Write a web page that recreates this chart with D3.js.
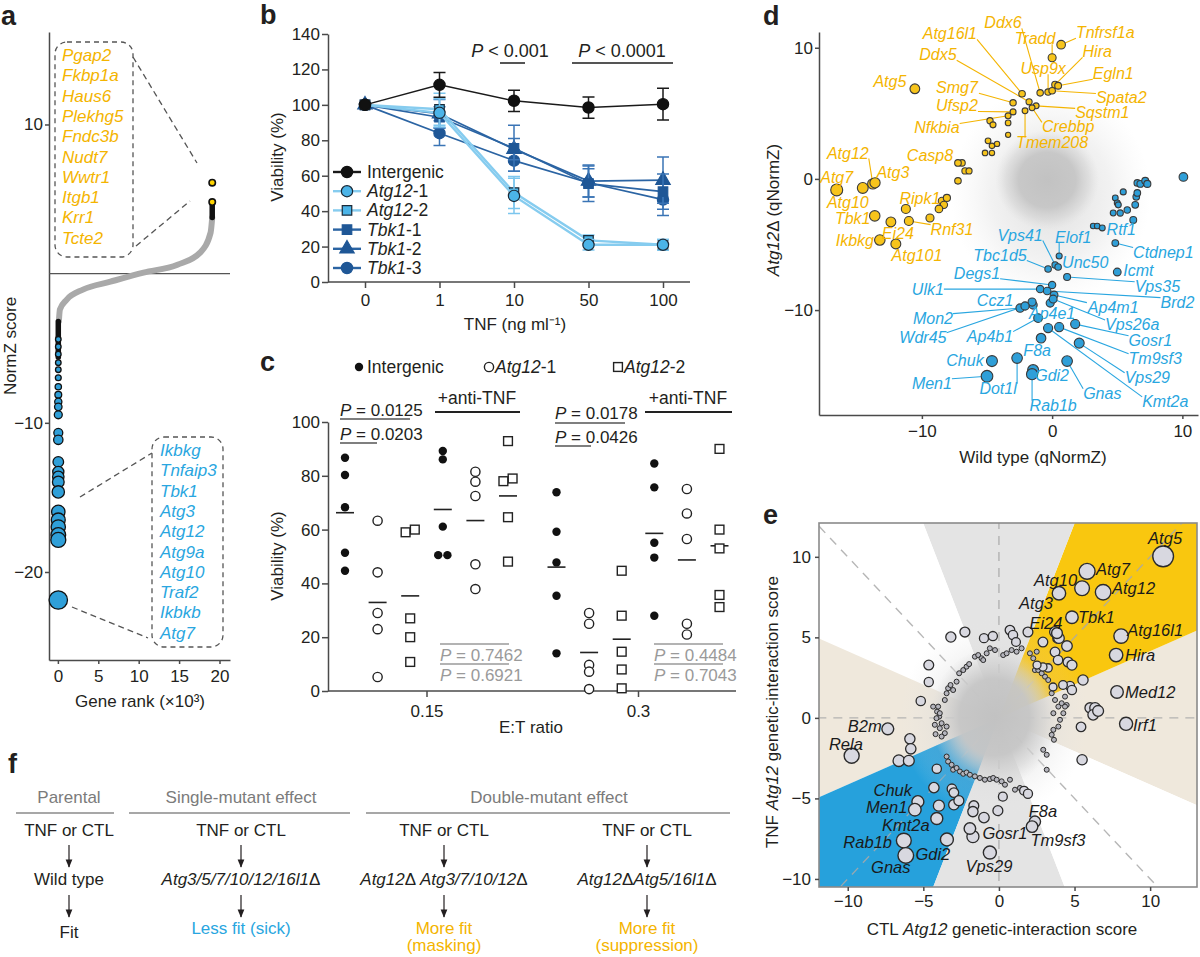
<!DOCTYPE html>
<html>
<head>
<meta charset="utf-8">
<script src="https://d3js.org/d3.v7.min.js"></script>
<style>
body { margin: 0; background: #fff; }
#fig { font-family: 'Liberation Sans', Arial, Helvetica, sans-serif; }
</style>
</head>
<body>
<svg id="fig" width="1200" height="957"></svg>
<script>
// ---------------- data: panel a (NormZ rank plot) ----------------
const aCurveRank = [0.12, 0.25, 1.1, 3.1, 6.5, 10.6, 14.8, 17.6, 18.9, 19.1];
const aCurveZ = [-3.2, -2.4, -1.74, -1.07, -0.54, 0.07, 0.6, 1.41, 2.75, 3.76];
const aTopStack = [3.76, 4.8];
const aBottomStack = [-3.2, -5.6];
const aTopZ = [6.1, 4.8];
const aHitZ = [-4.4, -4.9, -5.4, -5.97, -6.44, -6.98, -7.58, -8.12, -8.59, -8.93, -9.46, -10.67, -11.14,
  -12.62, -13.29, -13.62, -13.96, -14.63, -15.97, -16.51, -16.98, -17.52, -17.85, -21.88];
const aUpGenes = ["Pgap2", "Fkbp1a", "Haus6", "Plekhg5", "Fndc3b", "Nudt7", "Wwtr1", "Itgb1", "Krr1", "Tcte2"];
const aDownGenes = ["Ikbkg", "Tnfaip3", "Tbk1", "Atg3", "Atg12", "Atg9a", "Atg10", "Traf2", "Ikbkb", "Atg7"];

// ---------------- data: panel b (TNF dose response) ----------------
const bDoses = ["0", "1", "10", "50", "100"];
const bIntergenic = [100, 111.3, 102.3, 98.5, 100.4];
const bIntergenicSem = [0, 7, 6, 6, 9];
const bAtg12_1 = [100, 95.5, 48.6, 21, 21];
const bAtg12_1Sem = [0, 8, 10, 3, 3];
const bAtg12_2 = [100, 97.5, 50.5, 23.5, 21];
const bAtg12_2Sem = [0, 9, 9, 3, 3];
const bTbk1_1 = [100, 93, 75.5, 55.5, 51];
const bTbk1_1Sem = [0, 6, 13, 10, 10];
const bTbk1_2 = [100, 95, 75, 57, 57.5];
const bTbk1_2Sem = [0, 8, 6, 9, 13];
const bTbk1_3 = [100, 84, 68.5, 56, 46.5];
const bTbk1_3Sem = [0, 7, 6, 8, 9];

// ---------------- data: panel c (E:T killing) ----------------
const cRatios = ["0.15", "0.3"];
const cInt015 = [86.7, 80.3, 68.3, 51.4, 44.7];
const cAtgA015 = [63.3, 44.1, 29, 23, 5.2];
const cAtgB015 = [59, 60, 27, 20, 10.8];
const cIntAnti015 = [89.2, 86.1, 61.1, 50.5, 50.5];
const cAtgAAnti015 = [81.5, 77.8, 72.5, 47.1, 37.9];
const cAtgBAnti015 = [92.9, 79, 78, 64.6, 48.1];
const cInt03 = [73.9, 59.2, 47.8, 35.4, 14];
const cAtgA03 = [29, 25, 9.7, 7.2, 0.7];
const cAtgB03 = [44.7, 28, 14.6, 8, 1];
const cIntAnti03 = [84.6, 75.7, 55.1, 49.6, 28];
const cAtgAAnti03 = [75.1, 66, 56.5, 25, 21];
const cAtgBAnti03 = [90, 60, 53, 35.7, 31.2];

// ---------------- data: panel d (WT vs Atg12 KO qNormZ) ----------------
const dUpNames = ["Tnfrsf1a", "Tradd", "Hira", "Egln1", "Usp9x", "Spata2", "Ddx6", "Atg16l1", "Ddx5", "Sqstm1",
  "Crebbp", "Tmem208", "Smg7", "Ufsp2", "Nfkbia", "Atg5", "Casp8", "Atg12", "Atg3", "Atg7", "Atg10", "Tbk1",
  "Ripk1", "Rnf31", "Ei24", "Ikbkg", "Atg101"];
const dUpWT = [0.69, 0, 0.23, 0.46, -0.31, 0, -0.92, -2.31, -1.77, -1.23, -1.54, -2.08, -3, -3, -3.38, -10.54,
  -7.23, -13.77, -13.6, -16.54, -14.54, -13.62, -11.23, -11, -12.38, -13.23, -12];
const dUpKO = [10.23, 9.24, 7.18, 7.1, 6.62, 6.72, 6.56, 6.49, 5.88, 5.57, 5.42, 5.19, 5.8, 5.11, 4.81, 6.87,
  1.22, -0.38, -0.3, -0.84, -0.69, -2.82, -2.29, -3.21, -3.28, -4.66, -4.96];
const dUpOtherWT = [-4.77, -4.54, -3.38, -3.38, -4.92, -4.62, -4.23, -5.15, -4.62, -6.92, -6.69, -6.38, -7.23,
  -8.46, -8.08, -8.31, -8.69, -9.38];
const dUpOtherKO = [4.43, 4.12, 4.27, 3.36, 2.9, 2.52, 2.67, 1.98, 1.98, 1.22, 0.61, 0.61, -0.15, -1.68, -1.45,
  -1.98, -2.29, -2.98];
const dDownNames = ["Rtf1", "Ctdnep1", "Icmt", "Vps41", "Elof1", "Unc50", "Tbc1d5", "Vps35", "Degs1", "Ulk1",
  "Brd2", "Ap4m1", "Ccz1", "Mon2", "Wdr45", "Ap4e1", "Vps26a", "Ap4b1", "Gosr1", "Tm9sf3", "Vps29", "Kmt2a",
  "Gnas", "F8a", "Dot1l", "Chuk", "Men1", "Gdi2", "Rab1b"];
const dDownWT = [6.23, 4.85, 5, 0.23, 0.54, 0.46, -0.31, 1.15, 0, -0.92, -0.38, 0.15, -1.54, -2.46, -2.08, -0.15,
  0.08, -1.08, 1.77, 0.54, 2.08, -0.31, 1.15, -0.85, -2.69, -4.62, -5, -1.46, -1.54];
const dDownKO = [-3.13, -4.89, -7.1, -6.56, -5.88, -6.72, -6.87, -7.48, -8.09, -8.4, -8.55, -8.85, -9.39, -9.85,
  -9.69, -9.47, -9.16, -10.61, -11.07, -11.3, -12.52, -11.37, -13.89, -12.14, -13.66, -13.89, -15.04, -14.58, -14.89];
const dDownOtherWT = [3.15, 3.46, 3.85, 6.54, 6.77, 7.15, 7.31, 6.46, 6.54, 4.85, 5, 5.08, 4.69, 5.23, 5.77, 6.38,
  5.46, 10.08, -1.46];
const dDownOtherKO = [-3.59, -3.59, -3.74, -0.31, -0.38, -0.15, -0.38, -1.37, -1.07, -1.45, -1.83, -1.98, -2.6,
  -2.6, -2.37, -1.98, -0.99, 0.15, -9.62];

// ---------------- data: panel e (CTL vs TNF interaction scores) ----------------
const eNames = ["Atg5", "Atg7", "Atg10", "Atg12", "Atg3", "Tbk1", "Ei24", "Atg16l1", "Hira", "Med12", "Irf1",
  "B2m", "Rela", "Chuk", "Men1", "Kmt2a", "Rab1b", "Gnas", "Gdi2", "Vps29", "Gosr1", "F8a", "Tm9sf3"];
const eCTL = [10.86, 5.83, 5.5, 6.89, 3.97, 4.83, 3.84, 8.08, 7.75, 7.81, 8.41, -7.35, -9.74, -5.36, -5.56,
  -4.11, -6.29, -6.16, -3.44, -0.6, -1.92, 2.38, 2.19];
const eTNF = [10.03, 9.1, 8.05, 7.8, 7.74, 6.25, 5.26, 5.08, 3.9, 1.61, -0.37, -0.68, -2.35, -5.2, -5.7, -6.25,
  -7.62, -8.54, -7.55, -8.36, -6.87, -6.44, -6.75];
const eMidCTL = [-5.89, -5.83, -6.62, -5.96, -4.11, -4.3, -3.97, -3.11, -2.98, -2.98, -2.65, -0.99, -0.07, -1.66,
  -1.72, 0.26, 1.66, 1.92, 5.5, 5.43, -3.18, -2.25, -4.64, -4.64, -5.17, -0.99, -0.4, 0.73, 0.93, 1.13, 1.92, 2.91,
  3.71, 3.91, 4.5, 3.71, 3.91, 4.57, 4.83, 5.56, 4.7, 4.83, 4.24, 3.58, 3.25, 2.91, 2.52, 6.03, 6.36, 6.23, 6.56,
  3.97, -1.72];
const eMidTNF = [-1.3, -1.92, -2.66, -2.66, -3.16, -4.33, -5.45, -4.4, -4.64, -5.39, -5.14, -6.19, -5.76, -5.45,
  -5.82, -4.89, -4.52, -4.71, -2.6, -0.56, 5.02, 5.33, 3.28, 2.23, 1.05, 4.95, 5.08, 5.45, 5.14, 4.71, 5.33, 4.71,
  5.33, 4.95, 4.46, 4.09, 3.59, 3.47, 3.28, 2.35, 1.98, 1.73, 2.04, 1.92, 3.1, 3.16, 3.28, 0.62, 0.62, 0.19, 0.43,
  4.95, -7.37];
const eSmallCTL = [-4.35, -4.09, -3.95, -3.79, -3.58, -3.46, -3.36, -3.2, -3.03, -2.8, -2.63, -2.36, -2.14, -1.97,
  -1.59, -1.37, -1.15, -1.04, -0.81, -0.6, -0.26, 0.28, 0.51, 0.84, 1.17, 1.5, 2.05, 2.27, 2.5, 2.38, 2.6, 2.83,
  3.05, 3.26, 3.49, 3.71, 3.93, 3.6, 4.15, 4.37, 4.26, 4.48, -3.46, -3.58, -4.02, -3.91, -4.13, -4.24, -3.91, -4.19,
  -3.79, -3.46, -3.36, -3.13, -3.03, -2.8, -2.58, -2.36, -2.14, -1.92, -1.59, -1.26, -0.93, -0.6, -0.38, -0.15,
  0.18, 0.4, 0.73, 1.06, 1.39, 3.6, 3.49, 3.64, 3.93, 4.04, 4.37, 3.16, 3.16, 2.93];
const eSmallTNF = [0.7, 0.39, 0.08, -0.33, 1.11, 1.53, 1.84, 2.04, 1.73, 2.25, 2.77, 2.97, 3.18, 3.34, 3.8, 3.9,
  3.7, 3.59, 4.01, 4.32, 4.21, 3.9, 4.01, 4.21, 4.11, 4.32, 4.01, 3.7, 4.11, 2.97, 2.97, 2.77, 2.56, 2.35, 1.53,
  1.11, 0.7, 0.29, 0.91, 1.32, 0.29, 0.8, -0.54, -0.95, 0.7, 0.29, -0.02, -0.43, -0.64, -1.01, -1.16, -2.4, -2.71,
  -2.91, -3.22, -3.11, -3.33, -3.47, -3.39, -3.53, -3.63, -3.73, -3.84, -3.8, -3.73, -3.84, -3.94, -4.15, -3.84,
  -4.46, -4.35, -0.74, -1.05, -1.36, -0.54, -0.12, 0.7, -2.29, -3.22, -1.98];

// ---------------- label layout (data units) ----------------
const dLabelAt = {
  Tnfrsf1a: [4.08, 11.15, 1], Tradd: [-1.31, 10.69, 1], Hira: [3.46, 9.69, 1], Egln1: [4.69, 8.02, 1],
  Usp9x: [-0.69, 8.4, 1], Spata2: [5.31, 6.18, 1], Ddx6: [-3.77, 11.91, 1], Atg16l1: [-7.85, 11.07, 1],
  Ddx5: [-8.77, 9.47, 1], Sqstm1: [3.85, 5.04, 1], Crebbp: [1.23, 3.97, 1], Tmem208: [0, 2.82, 1],
  Smg7: [-7.31, 6.95, 1], Ufsp2: [-7.31, 5.57, 1], Nfkbia: [-8.85, 3.89, 1], Atg5: [-12.46, 7.4, 0],
  Casp8: [-9.38, 1.83, 0], Atg12: [-15.69, 1.98, 1], Atg3: [-12.23, 0.46, 0], Atg7: [-16.54, 0.08, 0],
  Atg10: [-15.69, -1.76, 0], Tbk1: [-15.31, -2.98, 0], Ripk1: [-10.15, -1.45, 0], Rnf31: [-7.69, -3.82, 1],
  Ei24: [-11.85, -4.12, 0], Ikbkg: [-15.15, -4.66, 0], Atg101: [-10.38, -5.8, 0],
  Rtf1: [5.31, -3.82, 0], Ctdnep1: [8.54, -5.57, 1], Icmt: [6.62, -6.98, 0], Vps41: [-2.46, -4.27, 1],
  Elof1: [1.62, -4.43, 1], Unc50: [2.54, -6.34, 0], Tbc1d5: [-4, -5.8, 1], Vps35: [8.08, -8.18, 1],
  Degs1: [-5.77, -7.18, 1], Ulk1: [-9.54, -8.4, 1], Brd2: [9.62, -9.39, 1], Ap4m1: [4.69, -9.77, 1],
  Ccz1: [-4.38, -9.24, 0], Mon2: [-9.15, -10.61, 1], Wdr45: [-9.92, -12.06, 1], Ap4e1: [0, -10.23, 0],
  Vps26a: [6.15, -11.1, 1], Ap4b1: [-4.77, -11.98, 1], Gosr1: [7.54, -12.3, 1], Tm9sf3: [7.92, -13.66, 1],
  Vps29: [7.31, -15.11, 1], Kmt2a: [8.69, -16.95, 1], Gnas: [3.85, -16.34, 1], F8a: [-1.15, -13.05, 0],
  Dot1l: [-4.15, -15.95, 1], Chuk: [-6.69, -13.82, 0], Men1: [-9.23, -15.57, 1], Gdi2: [0, -14.96, 0],
  Rab1b: [0.08, -17.25, 1]
};
const eLabelAt = {
  Atg5: [10.99, 11.15, "middle"], Atg7: [6.42, 9.23, "start"], Atg10: [5.17, 8.54, "end"],
  Atg12: [7.48, 8.05, "start"], Atg3: [3.58, 7.12, "end"], Tbk1: [5.23, 6.25, "start"],
  Ei24: [3.11, 5.88, "middle"], Atg16l1: [8.48, 5.45, "start"], Hira: [8.34, 3.9, "start"],
  Med12: [8.34, 1.61, "start"], Irf1: [8.87, -0.43, "start"], B2m: [-7.75, -0.5, "end"],
  Rela: [-10.12, -1.62, "middle"], Chuk: [-7.02, -4.5, "middle"], Men1: [-7.42, -5.55, "middle"],
  Kmt2a: [-6.16, -6.69, "middle"], Rab1b: [-8.68, -7.74, "middle"], Gnas: [-7.15, -9.29, "middle"],
  Gdi2: [-4.37, -8.48, "middle"], Vps29: [-0.66, -9.23, "middle"], Gosr1: [0.4, -7.18, "middle"],
  F8a: [2.91, -5.82, "middle"], Tm9sf3: [3.91, -7.62, "middle"]
};

// ---------------- drawing ----------------
const svg = d3.select("#fig");
const INK = "#231f20", AXC = "#4a4a4a";
const GOLD = "#f4b400", GOLDF = "#f7c41b", SKY = "#29a6e0", SKYF = "#2f9fd8";
svg.append("rect").attr("width", 1200).attr("height", 957).attr("fill", "#fff");
const defs = svg.append("defs");

function styleAxis(g) {
  g.attr("font-family", null).attr("font-size", 17);
  g.select(".domain").attr("stroke", AXC).attr("stroke-width", 1.5);
  g.selectAll(".tick line").attr("stroke", AXC).attr("stroke-width", 1.5);
  g.selectAll(".tick text").attr("fill", INK);
}

// parts: [text, italic]
function rich(g, x, y, parts, o) {
  o = o || {};
  const t = g.append("text").attr("x", x).attr("y", y)
    .attr("font-size", o.size || 17).attr("fill", o.fill || INK)
    .attr("text-anchor", o.anchor || "start");
  if (o.bold) t.attr("font-weight", "bold");
  parts.forEach(p => {
    const ts = t.append("tspan").text(p[0]);
    if (p[1]) ts.attr("font-style", "italic");
  });
  if (o.rotate) t.attr("transform", `rotate(-90,${x},${y})`);
  return t;
}

function gradient(id, stops) {
  const gr = defs.append("radialGradient").attr("id", id);
  stops.forEach(s => gr.append("stop").attr("offset", s[0]).attr("stop-color", s[1]).attr("stop-opacity", s[2]));
}
gradient("core", [[0, "#c2c2c2", 1], [0.55, "#c6c6c6", 0.95], [0.8, "#d0d0d0", 0.5], [1, "#dddddd", 0]]);
gradient("halo", [[0, "#cfcfcf", 0.7], [0.6, "#d9d9d9", 0.35], [1, "#e8e8e8", 0]]);
gradient("ringY", [[0, GOLDF, 0], [0.42, GOLDF, 0], [0.6, GOLDF, 0.85], [0.82, GOLDF, 0.45], [1, GOLDF, 0]]);
gradient("ringB", [[0, SKYF, 0], [0.42, SKYF, 0], [0.6, SKYF, 0.85], [0.82, SKYF, 0.45], [1, SKYF, 0]]);

defs.append("marker").attr("id", "arr").attr("viewBox", "0 0 10 10").attr("refX", 9).attr("refY", 5)
  .attr("markerWidth", 7).attr("markerHeight", 7).attr("orient", "auto")
  .append("path").attr("d", "M0,1 L10,5 L0,9 z").attr("fill", INK);

// panel letters
[["a", 1, 25], ["b", 260, 24], ["c", 260, 371], ["d", 763, 25], ["e", 763, 524], ["f", 8, 773]].forEach(l =>
  rich(svg, l[1], l[2], [[l[0], 0]], { size: 27, bold: true }));

// ===== panel a =====
const ga = svg.append("g");
const aX = d3.scaleLinear().domain([-1.1, 21.3]).range([49, 230]);
const aY = d3.scaleLinear().domain([-25.9, 16.2]).range([660, 32]);
ga.append("g").attr("transform", "translate(49,0)")
  .call(d3.axisLeft(aY).tickValues([10, -10, -20]).tickSize(4).tickPadding(2).tickSizeOuter(0)).call(styleAxis);
ga.append("g").attr("transform", "translate(0,660)")
  .call(d3.axisBottom(aX).tickValues([0, 5, 10, 15, 20]).tickSize(4).tickPadding(6).tickSizeOuter(0)).call(styleAxis);
ga.append("line").attr("x1", aX(-1.1)).attr("x2", aX(21.3)).attr("y1", aY(0)).attr("y2", aY(0))
  .attr("stroke", "#555").attr("stroke-width", 1.4);
rich(ga, 16, 346, [["NormZ score", 0]], { anchor: "middle", rotate: true });
rich(ga, 140, 707, [["Gene rank (\u00d710\u00b3)", 0]], { anchor: "middle" });

ga.append("path").datum(d3.zip(aCurveRank, aCurveZ))
  .attr("d", d3.line().x(d => aX(d[0])).y(d => aY(d[1])).curve(d3.curveMonotoneX))
  .attr("fill", "none").attr("stroke", "#a9a9a9").attr("stroke-width", 6).attr("stroke-linecap", "round");
ga.append("line").attr("x1", aX(19.1)).attr("x2", aX(19.1)).attr("y1", aY(aTopStack[0])).attr("y2", aY(aTopStack[1]))
  .attr("stroke", "#111").attr("stroke-width", 5.5).attr("stroke-linecap", "round");
ga.append("line").attr("x1", aX(0.05)).attr("x2", aX(0.05)).attr("y1", aY(aBottomStack[0])).attr("y2", aY(aBottomStack[1]))
  .attr("stroke", "#111").attr("stroke-width", 5.5).attr("stroke-linecap", "round");
ga.selectAll("circle.top").data(aTopZ).join("circle").attr("class", "top")
  .attr("cx", aX(19.1)).attr("cy", d => aY(d)).attr("r", 3.2)
  .attr("fill", "#ffd400").attr("stroke", "#111").attr("stroke-width", 1.6);
ga.selectAll("circle.hit").data(aHitZ).join("circle").attr("class", "hit")
  .attr("cx", aX(0.05)).attr("cy", d => aY(d)).attr("r", d => Math.max(2.8, -d * 0.42))
  .attr("fill", SKYF).attr("stroke", "#111").attr("stroke-width", 1.3);

function dashBox(g, x, y, w, h) {
  g.append("rect").attr("x", x).attr("y", y).attr("width", w).attr("height", h).attr("rx", 12)
    .attr("fill", "none").attr("stroke", "#555").attr("stroke-width", 1.3).attr("stroke-dasharray", "5,4");
}
function dashLine(g, x1, y1, x2, y2) {
  g.append("line").attr("x1", x1).attr("y1", y1).attr("x2", x2).attr("y2", y2)
    .attr("stroke", "#555").attr("stroke-width", 1.3).attr("stroke-dasharray", "6,4");
}
dashBox(ga, 55, 42, 78, 215);
dashLine(ga, 133, 57, 197, 163);
dashLine(ga, 136, 246, 190, 201);
aUpGenes.forEach((s, i) => rich(ga, 62, 61 + i * 20.3, [[s, 1]], { fill: GOLD }));
dashBox(ga, 152, 437, 71, 210);
dashLine(ga, 80, 497, 152, 453);
dashLine(ga, 72, 607, 148, 638);
aDownGenes.forEach((s, i) => rich(ga, 160, 456 + i * 20.3, [[s, 1]], { fill: SKY }));

// ===== panel b =====
const gb = svg.append("g");
const bX = d3.scalePoint().domain(bDoses).range([365, 663]);
const bY = d3.scaleLinear().domain([0, 140]).range([282, 34]);
gb.append("g").attr("transform", "translate(328,0)")
  .call(d3.axisLeft(bY).tickValues(d3.range(0, 141, 20)).tickSize(6).tickPadding(2).tickSizeOuter(0)).call(styleAxis);
const bxa = gb.append("g").attr("transform", "translate(0,282)")
  .call(d3.axisBottom(bX).tickSize(6).tickPadding(6).tickSizeOuter(0)).call(styleAxis);
bxa.select(".domain").remove();
gb.append("line").attr("x1", 328).attr("x2", 690).attr("y1", 282).attr("y2", 282).attr("stroke", AXC).attr("stroke-width", 1.5);
rich(gb, 283, 157, [["Viability (%)", 0]], { anchor: "middle", rotate: true });
rich(gb, 515, 330, [["TNF (ng ml\u207b\u00b9)", 0]], { anchor: "middle" });

const bSeries = [
  { name: "Tbk1-3", v: bTbk1_3, e: bTbk1_3Sem }, { name: "Tbk1-2", v: bTbk1_2, e: bTbk1_2Sem },
  { name: "Tbk1-1", v: bTbk1_1, e: bTbk1_1Sem }, { name: "Atg12-2", v: bAtg12_2, e: bAtg12_2Sem },
  { name: "Atg12-1", v: bAtg12_1, e: bAtg12_1Sem }, { name: "Intergenic", v: bIntergenic, e: bIntergenicSem }];
const bStyle = {
  "Intergenic": { line: "#1a1a1a", fill: "#111", stroke: "#111", shape: d3.symbolCircle, w: 1.5, err: "#1a1a1a" },
  "Atg12-1": { line: "#86ccef", fill: "#4bb4e8", stroke: "#1b2a38", shape: d3.symbolCircle, w: 2.4, err: "#7cc6ee" },
  "Atg12-2": { line: "#86ccef", fill: "#4bb4e8", stroke: "#1b2a38", shape: d3.symbolSquare, w: 2.4, err: "#7cc6ee" },
  "Tbk1-1": { line: "#2b64a3", fill: "#1f5796", stroke: "#1f5796", shape: d3.symbolSquare, w: 1.7, err: "#3a74b5" },
  "Tbk1-2": { line: "#2b64a3", fill: "#1f5796", stroke: "#1f5796", shape: d3.symbolTriangle, w: 1.7, err: "#3a74b5" },
  "Tbk1-3": { line: "#2b64a3", fill: "#1f5796", stroke: "#1f5796", shape: d3.symbolCircle, w: 1.7, err: "#3a74b5" }
};
bSeries.forEach(s => {
  const st = bStyle[s.name];
  const pts = bDoses.map((d, i) => ({ d: d, v: s.v[i], e: s.e[i] }));
  gb.append("path").datum(pts).attr("d", d3.line().x(p => bX(p.d)).y(p => bY(p.v)))
    .attr("fill", "none").attr("stroke", st.line).attr("stroke-width", st.w);
  pts.filter(p => p.e > 0).forEach(p => {
    const x = bX(p.d);
    gb.append("path").attr("d", `M${x},${bY(p.v - p.e)}V${bY(p.v + p.e)}M${x - 6},${bY(p.v - p.e)}h12M${x - 6},${bY(p.v + p.e)}h12`)
      .attr("stroke", st.err).attr("stroke-width", 1.5).attr("fill", "none");
  });
  gb.selectAll(null).data(pts).join("path")
    .attr("transform", p => `translate(${bX(p.d)},${bY(p.v)})`)
    .attr("d", d3.symbol().type(st.shape).size(st.shape === d3.symbolCircle ? 100 : 90))
    .attr("fill", st.fill).attr("stroke", st.stroke).attr("stroke-width", 1.2);
});
const bLegend = ["Intergenic", "Atg12-1", "Atg12-2", "Tbk1-1", "Tbk1-2", "Tbk1-3"];
bLegend.forEach((n, i) => {
  const st = bStyle[n], y = 172 + i * 19.2;
  gb.append("line").attr("x1", 333).attr("x2", 361).attr("y1", y).attr("y2", y).attr("stroke", st.line).attr("stroke-width", 2.4);
  gb.append("path").attr("transform", `translate(347,${y})`)
    .attr("d", d3.symbol().type(st.shape).size(st.shape === d3.symbolCircle ? 100 : 90))
    .attr("fill", st.fill).attr("stroke", st.stroke).attr("stroke-width", 1.2);
  const parts = n === "Intergenic" ? [[n, 0]] : [[n.split("-")[0], 1], ["-" + n.split("-")[1], 0]];
  rich(gb, 367, y + 6, parts, { size: 17.5 });
});
rich(gb, 510, 57, [["P", 1], [" < 0.001", 0]], { anchor: "middle", size: 18 });
rich(gb, 622, 57, [["P", 1], [" < 0.0001", 0]], { anchor: "middle", size: 18 });
gb.append("line").attr("x1", 500).attr("x2", 525).attr("y1", 63).attr("y2", 63).attr("stroke", "#555").attr("stroke-width", 2);
gb.append("line").attr("x1", 572).attr("x2", 673).attr("y1", 63).attr("y2", 63).attr("stroke", "#555").attr("stroke-width", 2);

// ===== panel c =====
const gc = svg.append("g");
const cX = d3.scalePoint().domain(cRatios).range([426.5, 638]);
const cY = d3.scaleLinear().domain([0, 100]).range([691, 422]);
gc.append("g").attr("transform", "translate(328,0)")
  .call(d3.axisLeft(cY).tickValues(d3.range(0, 101, 20)).tickSize(6).tickPadding(2).tickSizeOuter(0)).call(styleAxis);
const cxa = gc.append("g").attr("transform", "translate(0,691)")
  .call(d3.axisBottom(cX).tickSize(6).tickPadding(8).tickSizeOuter(0)).call(styleAxis);
cxa.select(".domain").remove();
gc.append("line").attr("x1", 328).attr("x2", 736).attr("y1", 691).attr("y2", 691).attr("stroke", AXC).attr("stroke-width", 1.5);
rich(gc, 283, 556, [["Viability (%)", 0]], { anchor: "middle", rotate: true });
rich(gc, 531, 733, [["E:T ratio", 0]], { anchor: "middle" });

const cGroups = [
  ["0.15", [cInt015, cAtgA015, cAtgB015, cIntAnti015, cAtgAAnti015, cAtgBAnti015]],
  ["0.3", [cInt03, cAtgA03, cAtgB03, cIntAnti03, cAtgAAnti03, cAtgBAnti03]]];
function cMark(g, kind, x, y) {
  if (kind === 0) g.append("circle").attr("cx", x).attr("cy", y).attr("r", 4.2).attr("fill", "#111");
  else if (kind === 1) g.append("circle").attr("cx", x).attr("cy", y).attr("r", 4.6).attr("fill", "#fff").attr("stroke", "#222").attr("stroke-width", 1.4);
  else g.append("rect").attr("x", x - 4.4).attr("y", y - 4.4).attr("width", 8.8).attr("height", 8.8).attr("fill", "#fff").attr("stroke", "#222").attr("stroke-width", 1.4);
}
cGroups.forEach(gr => {
  gr[1].forEach((vals, i) => {
    const x0 = cX(gr[0]) + (i - 2.5) * 32.6;
    const offs = vals.map(() => 0);
    const idx = d3.range(vals.length).sort((p, q) => vals[p] - vals[q]);
    for (let k = 0; k < idx.length - 1; k++) {
      if (Math.abs(vals[idx[k]] - vals[idx[k + 1]]) < 1.6) { offs[idx[k]] = -4.6; offs[idx[k + 1]] = 4.6; k++; }
    }
    const m = d3.mean(vals);
    gc.append("line").attr("x1", x0 - 9).attr("x2", x0 + 9).attr("y1", cY(m)).attr("y2", cY(m)).attr("stroke", "#222").attr("stroke-width", 1.6);
    vals.forEach((v, j) => cMark(gc, i % 3, x0 + offs[j], cY(v)));
  });
});
cMark(gc, 0, 359, 367); rich(gc, 367, 373, [["Intergenic", 0]], { size: 17.5 });
cMark(gc, 1, 489, 367); rich(gc, 495, 373, [["Atg12", 1], ["-1", 0]], { size: 17.5 });
cMark(gc, 2, 618, 367); rich(gc, 624, 373, [["Atg12", 1], ["-2", 0]], { size: 17.5 });
function hline(g, x1, x2, y, c, w) {
  g.append("line").attr("x1", x1).attr("x2", x2).attr("y1", y).attr("y2", y).attr("stroke", c).attr("stroke-width", w);
}
rich(gc, 340, 416, [["P", 1], [" = 0.0125", 0]], { size: 17 }); hline(gc, 340, 410, 419, "#555", 1.5);
rich(gc, 340, 440, [["P", 1], [" = 0.0203", 0]], { size: 17 }); hline(gc, 340, 377, 443, "#555", 1.5);
rich(gc, 555, 419, [["P", 1], [" = 0.0178", 0]], { size: 17 }); hline(gc, 555, 625, 423, "#555", 1.5);
rich(gc, 555, 443, [["P", 1], [" = 0.0426", 0]], { size: 17 }); hline(gc, 555, 591, 446, "#555", 1.5);
rich(gc, 477, 404, [["+anti-TNF", 0]], { size: 17.5, anchor: "middle" }); hline(gc, 435, 520, 412, "#222", 2);
rich(gc, 688, 404, [["+anti-TNF", 0]], { size: 17.5, anchor: "middle" }); hline(gc, 645, 732, 412, "#222", 2);
const PG = "#9a9a9a";
rich(gc, 440, 661, [["P", 1], [" = 0.7462", 0]], { size: 17, fill: PG }); hline(gc, 440, 509, 644, PG, 1.5);
rich(gc, 440, 681, [["P", 1], [" = 0.6921", 0]], { size: 17, fill: PG }); hline(gc, 440, 509, 664, PG, 1.5);
rich(gc, 654, 661, [["P", 1], [" = 0.4484", 0]], { size: 17, fill: PG }); hline(gc, 654, 723, 644, PG, 1.5);
rich(gc, 654, 681, [["P", 1], [" = 0.7043", 0]], { size: 17, fill: PG }); hline(gc, 654, 723, 664, PG, 1.5);

// ===== panel d =====
const gd = svg.append("g");
const dX = d3.scaleLinear().domain([-17.9, 11.2]).range([819, 1198]);
const dY = d3.scaleLinear().domain([-18, 11.2]).range([415, 32]);
gd.append("ellipse").attr("cx", dX(-0.1)).attr("cy", dY(-1.2)).attr("rx", 100).attr("ry", 110).attr("fill", "url(#halo)");
gd.append("ellipse").attr("cx", dX(-0.38)).attr("cy", dY(-0.08)).attr("rx", 52).attr("ry", 50).attr("fill", "url(#core)");
gd.append("g").attr("transform", "translate(819,0)")
  .call(d3.axisLeft(dY).tickValues([-10, 0, 10]).tickSize(4).tickPadding(2).tickSizeOuter(0)).call(styleAxis);
gd.append("g").attr("transform", "translate(0,415)")
  .call(d3.axisBottom(dX).tickValues([-10, 0, 10]).tickSize(4).tickPadding(6).tickSizeOuter(0)).call(styleAxis);
rich(gd, 1033, 463, [["Wild type (qNormZ)", 0]], { anchor: "middle" });
rich(gd, 779, 210, [["Atg12", 1], ["\u0394 (qNormZ)", 0]], { anchor: "middle", rotate: true });

const dRad = (x, y) => 1.3 + 0.29 * Math.hypot(x + 0.38, y + 0.08);
const dLeaders = gd.append("g");
const dPts = gd.append("g");
const dLabels = gd.append("g");
function dGroup(names, xs, ys, fill, tcol) {
  xs.forEach((x, i) => {
    dPts.append("circle").attr("cx", dX(x)).attr("cy", dY(ys[i])).attr("r", dRad(x, ys[i]))
      .attr("fill", fill).attr("stroke", "#3a3a3a").attr("stroke-width", 1.1);
  });
  if (!names) return;
  names.forEach((n, i) => {
    const L = dLabelAt[n];
    const t = dLabels.append("text").attr("x", dX(L[0])).attr("y", dY(L[1])).attr("dy", "0.35em")
      .attr("text-anchor", "middle").attr("font-size", 16).attr("font-style", "italic").attr("fill", tcol).text(n);
    if (L[2]) {
      const b = t.node().getBBox();
      const px = dX(xs[i]), py = dY(ys[i]);
      const qx = Math.max(b.x, Math.min(px, b.x + b.width));
      const qy = Math.max(b.y + 4, Math.min(py, b.y + b.height - 3));
      dLeaders.append("line").attr("x1", px).attr("y1", py).attr("x2", qx).attr("y2", qy)
        .attr("stroke", tcol).attr("stroke-width", 1.1);
    }
  });
}
dGroup(null, dUpOtherWT, dUpOtherKO, GOLDF, GOLD);
dGroup(dUpNames, dUpWT, dUpKO, GOLDF, GOLD);
dGroup(null, dDownOtherWT, dDownOtherKO, SKYF, SKY);
dGroup(dDownNames, dDownWT, dDownKO, SKYF, SKY);

// ===== panel e =====
const ge = svg.append("g");
const eX = d3.scaleLinear().domain([-11.9, 13.1]).range([819, 1197]);
const eY = d3.scaleLinear().domain([-10.5, 12.1]).range([887, 523]);
defs.append("clipPath").attr("id", "eclip").append("rect").attr("x", 819).attr("y", 523).attr("width", 378).attr("height", 364);
const sectorColors = ["#efe8dc", "#f9c70f", "#e4e4e4", "#ffffff", "#efe8dc", "#26a1dc", "#e4e4e4", "#ffffff"];
function sectorPath(k) {
  const a0 = (-22.5 + 45 * k) * Math.PI / 180, a1 = a0 + Math.PI / 4, R = 60;
  const pts = [[0, 0], [R * Math.cos(a0), R * Math.sin(a0)], [R * Math.cos((a0 + a1) / 2), R * Math.sin((a0 + a1) / 2)], [R * Math.cos(a1), R * Math.sin(a1)]];
  return d3.line().x(p => eX(p[0])).y(p => eY(p[1]))(pts) + "Z";
}
defs.append("clipPath").attr("id", "secY").append("path").attr("d", sectorPath(1));
defs.append("clipPath").attr("id", "secB").append("path").attr("d", sectorPath(5));
const eBg = ge.append("g").attr("clip-path", "url(#eclip)");
sectorColors.forEach((c, k) => eBg.append("path").attr("d", sectorPath(k)).attr("fill", c));
[[[-30, -30], [30, 30]], [[-30, 30], [30, -30]], [[0, -30], [0, 30]], [[-30, 0], [30, 0]]].forEach(l =>
  eBg.append("line").attr("x1", eX(l[0][0])).attr("y1", eY(l[0][1])).attr("x2", eX(l[1][0])).attr("y2", eY(l[1][1]))
    .attr("stroke", "#aaa").attr("stroke-width", 1.4).attr("stroke-dasharray", "9,7").attr("opacity", 0.85));
eBg.append("ellipse").attr("cx", eX(-0.3)).attr("cy", eY(0)).attr("rx", 95).attr("ry", 100).attr("fill", "url(#halo)");
eBg.append("ellipse").attr("cx", eX(0)).attr("cy", eY(0)).attr("rx", 92).attr("ry", 96).attr("fill", "url(#ringY)").attr("clip-path", "url(#secY)");
eBg.append("ellipse").attr("cx", eX(0)).attr("cy", eY(0)).attr("rx", 92).attr("ry", 96).attr("fill", "url(#ringB)").attr("clip-path", "url(#secB)");
eBg.append("ellipse").attr("cx", eX(-0.3)).attr("cy", eY(0.05)).attr("rx", 64).attr("ry", 70).attr("fill", "url(#core)");

const eR = (x, y) => 1.5 + 0.6 * Math.hypot(x, y);
eSmallCTL.forEach((x, i) => ge.append("circle").attr("cx", eX(x)).attr("cy", eY(eSmallTNF[i])).attr("r", 2.5)
  .attr("fill", "#b5b5bd").attr("stroke", "#2b2b2b").attr("stroke-width", 1));
eMidCTL.forEach((x, i) => ge.append("circle").attr("cx", eX(x)).attr("cy", eY(eMidTNF[i])).attr("r", eR(x, eMidTNF[i]))
  .attr("fill", "#d8d8e0").attr("stroke", "#2b2b2b").attr("stroke-width", 1.3));
eCTL.forEach((x, i) => ge.append("circle").attr("cx", eX(x)).attr("cy", eY(eTNF[i])).attr("r", eR(x, eTNF[i]))
  .attr("fill", "#d8d8e0").attr("stroke", "#2b2b2b").attr("stroke-width", 1.4));
eNames.forEach(n => {
  const L = eLabelAt[n];
  ge.append("text").attr("x", eX(L[0])).attr("y", eY(L[1])).attr("dy", "0.35em").attr("text-anchor", L[2])
    .attr("font-size", 16.5).attr("font-style", "italic").attr("fill", "#1a1a1a").text(n);
});
ge.append("rect").attr("x", 819).attr("y", 523).attr("width", 378).attr("height", 364)
  .attr("fill", "none").attr("stroke", "#8a8a8a").attr("stroke-width", 1.6);
const eya = ge.append("g").attr("transform", "translate(819,0)")
  .call(d3.axisLeft(eY).tickValues([-10, -5, 0, 5, 10]).tickSize(4).tickPadding(4)).call(styleAxis);
eya.select(".domain").remove();
const exa = ge.append("g").attr("transform", "translate(0,887)")
  .call(d3.axisBottom(eX).tickValues([-10, -5, 0, 5, 10]).tickSize(4).tickPadding(4)).call(styleAxis);
exa.select(".domain").remove();
rich(ge, 1002, 935, [["CTL ", 0], ["Atg12", 1], [" genetic-interaction score", 0]], { anchor: "middle" });
rich(ge, 778, 712, [["TNF ", 0], ["Atg12", 1], [" genetic-interaction score", 0]], { anchor: "middle", rotate: true });

// ===== panel f =====
const gf = svg.append("g");
const HG = "#7b7b7b";
[["Parental", 69, 16, 114], ["Single-mutant effect", 241, 129, 350], ["Double-mutant effect", 549, 366, 730]].forEach(h => {
  rich(gf, h[1], 803, [[h[0], 0]], { anchor: "middle", fill: HG });
  hline(gf, h[2], h[3], 813, "#8a8a8a", 1.6);
});
const fCols = [69, 241, 444, 647];
fCols.forEach(x => {
  rich(gf, x, 836, [["TNF or CTL", 0]], { anchor: "middle" });
  gf.append("line").attr("x1", x).attr("x2", x).attr("y1", 845).attr("y2", 867).attr("stroke", INK).attr("stroke-width", 1.2).attr("marker-end", "url(#arr)");
  gf.append("line").attr("x1", x).attr("x2", x).attr("y1", 895).attr("y2", 917).attr("stroke", INK).attr("stroke-width", 1.2).attr("marker-end", "url(#arr)");
});
rich(gf, 69, 885, [["Wild type", 0]], { anchor: "middle" });
rich(gf, 241, 885, [["Atg3/5/7/10/12/16l1", 1], ["\u0394", 0]], { anchor: "middle" });
rich(gf, 444, 885, [["Atg12", 1], ["\u0394 ", 0], ["Atg3/7/10/12", 1], ["\u0394", 0]], { anchor: "middle" });
rich(gf, 647, 885, [["Atg12", 1], ["\u0394", 0], ["Atg5/16l1", 1], ["\u0394", 0]], { anchor: "middle" });
rich(gf, 69, 938, [["Fit", 0]], { anchor: "middle" });
rich(gf, 241, 934, [["Less fit (sick)", 0]], { anchor: "middle", fill: SKY });
rich(gf, 444, 934, [["More fit", 0]], { anchor: "middle", fill: GOLD });
rich(gf, 444, 951, [["(masking)", 0]], { anchor: "middle", fill: GOLD });
rich(gf, 647, 934, [["More fit", 0]], { anchor: "middle", fill: GOLD });
rich(gf, 647, 951, [["(suppression)", 0]], { anchor: "middle", fill: GOLD });
</script>
</body>
</html>
